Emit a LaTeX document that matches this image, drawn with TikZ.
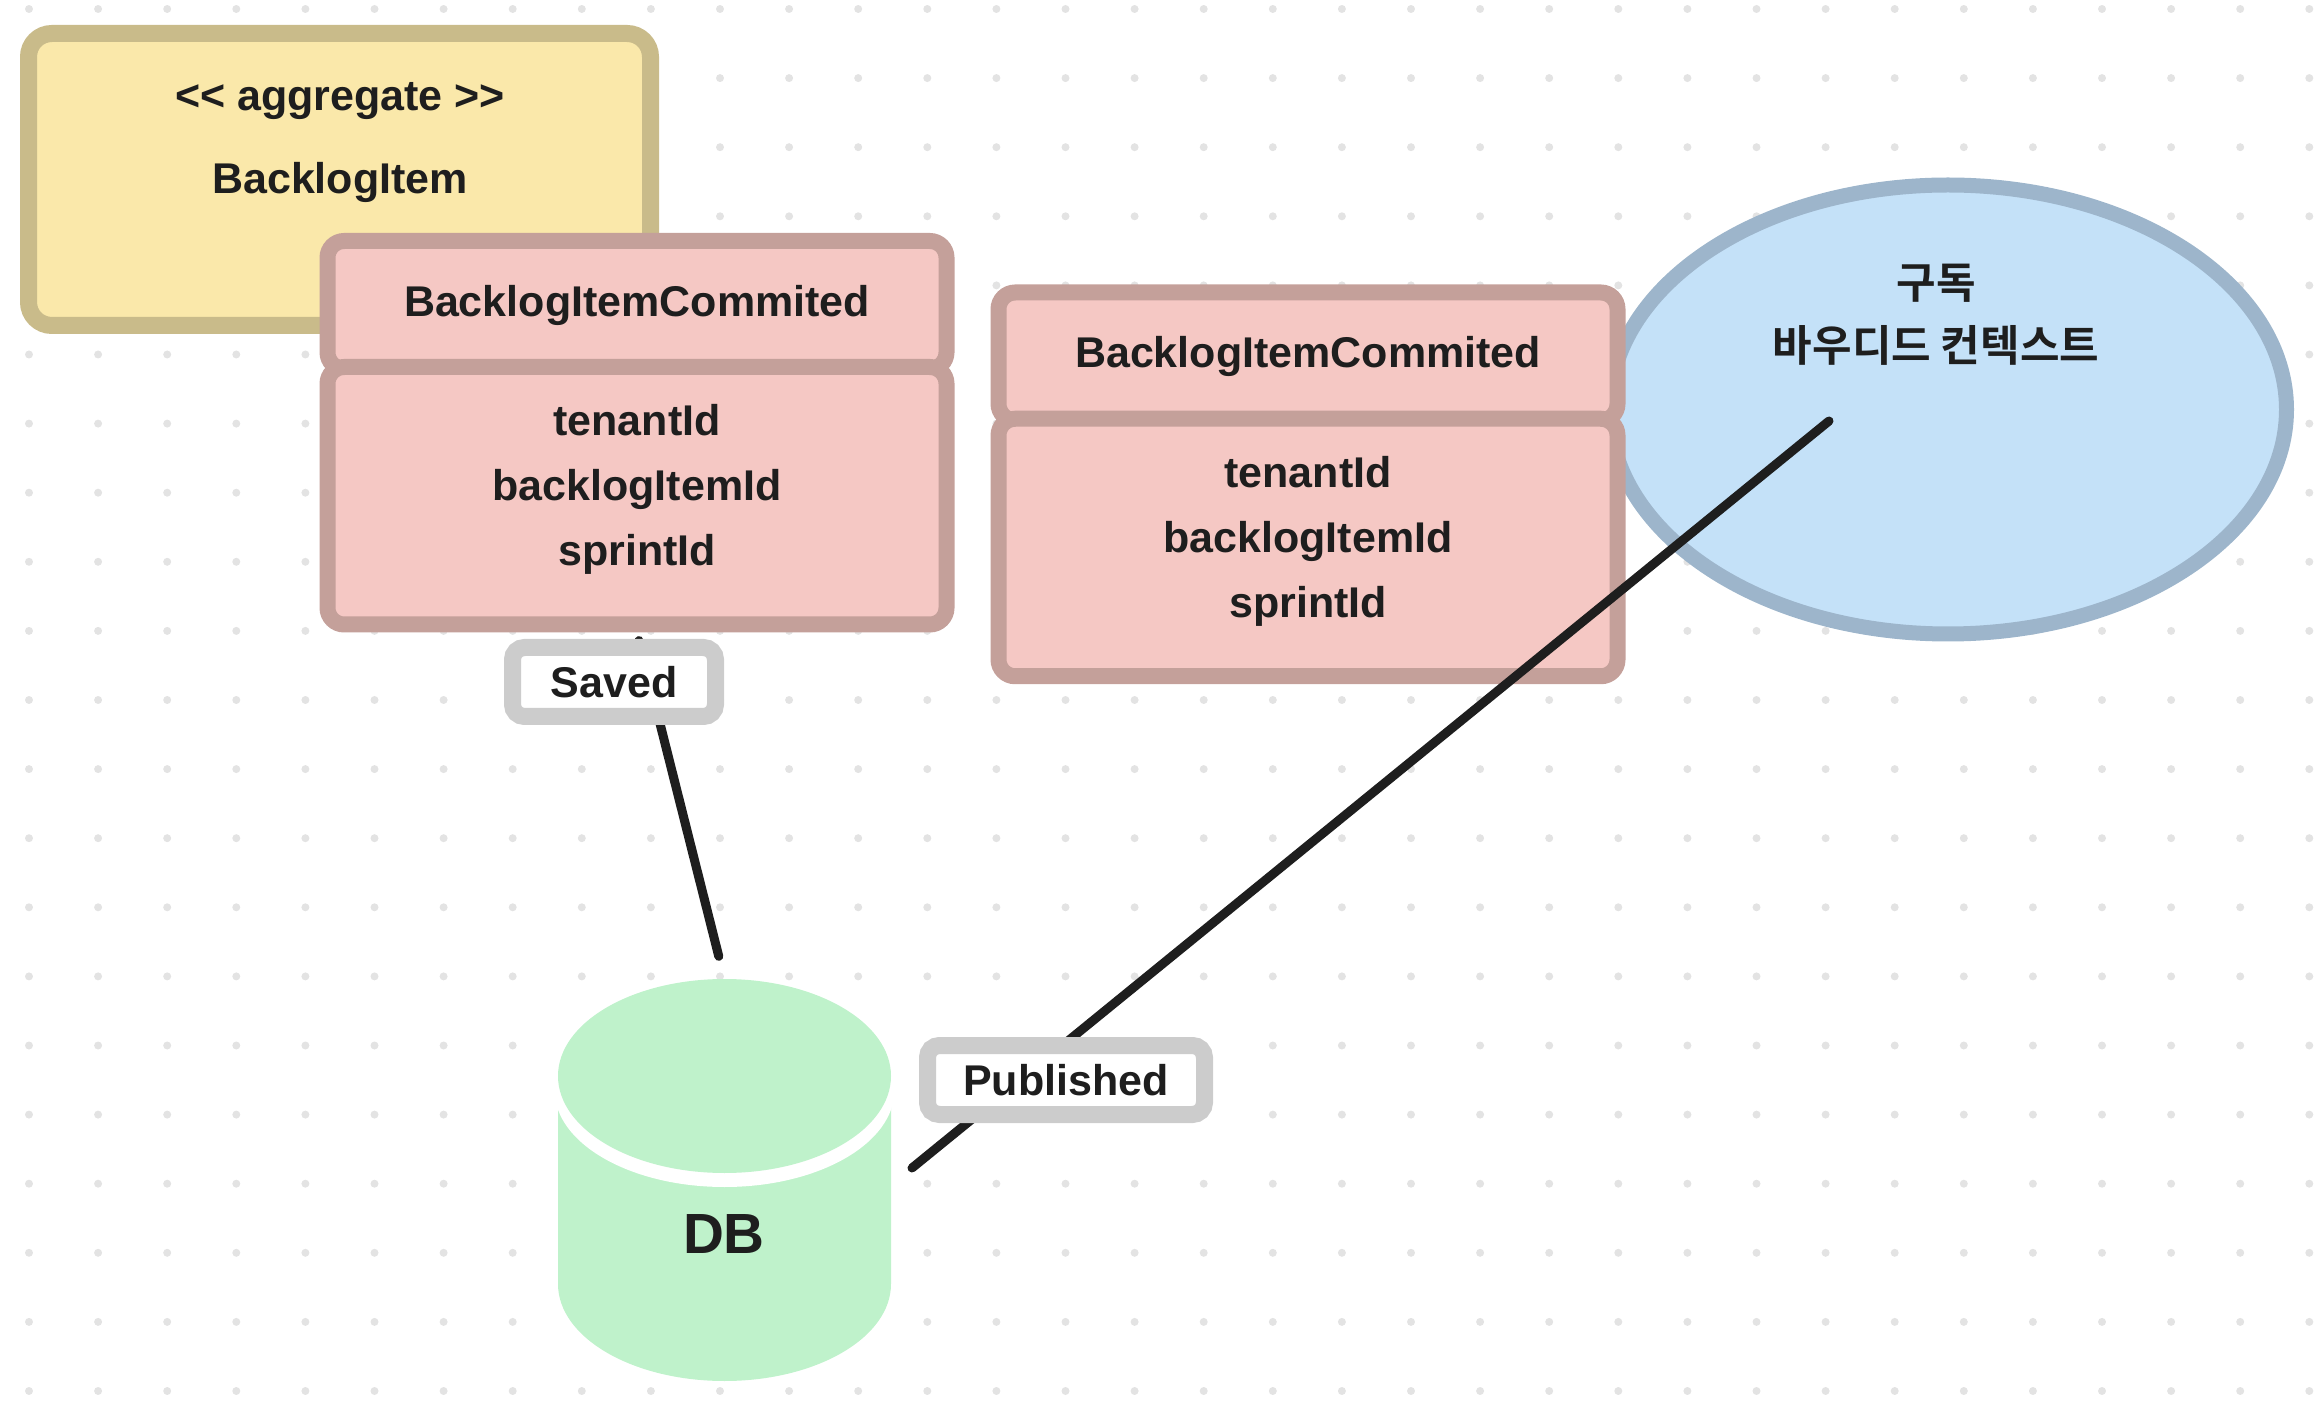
\documentclass[tikz,border=0pt]{standalone}
\usepackage{fontspec}
\setmainfont{Liberation Sans}
\newfontfamily\kofont{Noto Sans CJK KR}[BoldFont=* Bold]
\usepackage{tikz}
\usetikzlibrary{shapes.geometric}

\definecolor{ink}{HTML}{1E1E1E}
\definecolor{dotgray}{HTML}{E3E3E3}
\definecolor{aggfill}{HTML}{FAE8AA}
\definecolor{aggline}{HTML}{C9BB8A}
\definecolor{evfill}{HTML}{F5C8C4}
\definecolor{evline}{HTML}{C4A09A}
\definecolor{ctxfill}{HTML}{C4E1F8}
\definecolor{ctxline}{HTML}{9DB5CB}
\definecolor{dbfill}{HTML}{BFF2CB}
\definecolor{tagline}{HTML}{CCCCCC}

\begin{document}
\begin{tikzpicture}[x=0.3pt, y=-0.3pt,
    txt/.style={text=ink, font=\bfseries\fontsize{12.9pt}{19.5pt}\selectfont, align=center, inner sep=0},
    evbox/.style={txt, draw=evline, fill=evfill, line width=4.8pt, rounded corners=5pt, minimum width=185.7pt},
    tag/.style={txt, draw=tagline, fill=white, line width=5.1pt, rounded corners=3.6pt, minimum height=20.7pt},
    conn/.style={draw=ink, line width=2.7pt, line cap=round}]
    \useasboundingbox (0,0) rectangle (2318,1402);
    % dotted canvas
    \foreach \i in {0,...,33} {
        \foreach \j in {0,...,20} {
            \fill[dotgray] ({29+69.1*\i}, {9+69.1*\j}) circle (1.2pt);
        }
    }

    % aggregate
    \node[txt, draw=aggline, fill=aggfill, line width=5.1pt, rounded corners=7pt,
        minimum width=186.6pt, minimum height=87.6pt] (agg) at (339.5,179.5) {};
    \node[txt] (aggstereo) at (340,101) {<\kern0pt< aggregate >\kern0pt>};
    \node[txt] (aggname) at (340,182) {BacklogItem};

    % event on the aggregate
    \node[evbox, minimum height=38.4pt] (e1head) at (637,305) {BacklogItemCommited};
    \node[evbox, minimum height=77.25pt] (e1body) at (637,495.75) {};
    \node[txt] (e1fields) at (637,489.5) {tenantId\\backlogItemId\\sprintId};

    % subscriber context
    \node[ellipse, draw=ctxline, fill=ctxfill, line width=4.5pt, inner sep=0,
        minimum width=203.1pt, minimum height=134.7pt] (ctx) at (1948,409.5) {};
    \node[txt, font=\kofont\bfseries\fontsize{12.9pt}{19pt}\selectfont] (ctxname) at (1936,315) {구독\\바우디드 컨텍스트};

    % published event
    \node[evbox, minimum height=38.4pt] (e2head) at (1308,356.5) {BacklogItemCommited};
    \node[evbox, minimum height=77.25pt] (e2body) at (1308,547.5) {};
    \node[txt] (e2fields) at (1308,541.5) {tenantId\\backlogItemId\\sprintId};

    % DB
    \fill[dbfill] (558,1076) -- (558,1284)
        arc[start angle=180, end angle=360, x radius=49.95pt, y radius=29.1pt]
        -- (891,1076) -- cycle;
    \fill[white] (724.5,1090) ellipse[x radius=51pt, y radius=29.1pt];
    \fill[dbfill] (724.5,1076) ellipse[x radius=49.95pt, y radius=29.1pt];
    \node[txt, font=\bfseries\fontsize{17pt}{20pt}\selectfont] (db) at (724,1234) {DB};
    \coordinate (dbtop) at (724.5,979);

    % connectors
    \coordinate (pubfrom) at (912,1168);
    \coordinate (pubto) at (1829,421);
    \draw[conn, shorten <=2.5pt, shorten >=7pt] (e1body.south) -- (dbtop);
    \draw[conn] (pubfrom) -- (pubto);
    \node[tag, minimum width=60.9pt] (saved) at (614,682) {Saved};
    \node[tag, minimum width=83.1pt] (published) at (1066,1080) {Published};
\end{tikzpicture}
\end{document}
